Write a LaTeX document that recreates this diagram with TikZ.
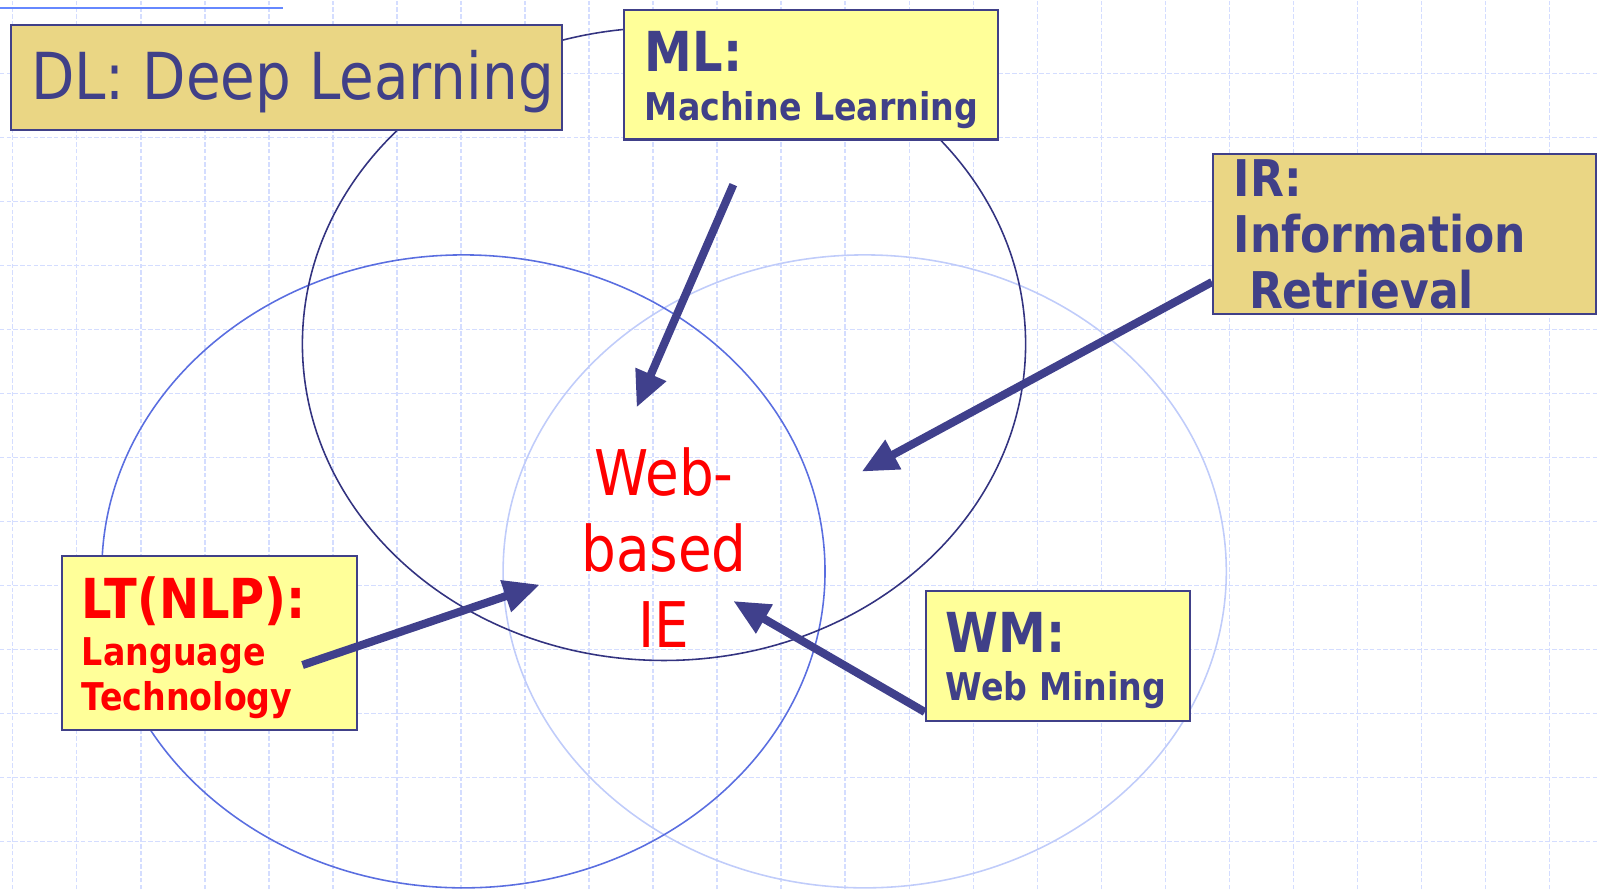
\documentclass[tikz,border=0pt]{standalone}
\usepackage{fontspec}
\setmainfont{DejaVu Sans}[FakeStretch=0.87]
\usepackage{xcolor}
\usepackage{tikz}
\usetikzlibrary{arrows.meta}

\begin{document}
\begin{tikzpicture}[
  gridline/.style={gridblue,line width=0.45pt,dash pattern=on 2pt off 1pt},
  labelbox/.style={draw=navy,line width=0.9pt,inner sep=0pt,anchor=north west},
  boxtext/.style={anchor=base west,inner sep=0pt,align=left},
  hint/.style={-{Triangle[length=16pt,width=14pt]},arrowblue,line width=3.6pt}
]
\definecolor{navy}{HTML}{404088}
\definecolor{arrowblue}{HTML}{40408C}
\definecolor{mlring}{HTML}{333380}
\definecolor{ltring}{HTML}{5A6EE0}
\definecolor{wmring}{HTML}{C0CCFA}
\definecolor{gridblue}{HTML}{D4DDFF}
\definecolor{titleblue}{HTML}{6688FF}
\definecolor{khaki}{HTML}{EAD684}
\definecolor{paleyellow}{HTML}{FFFF99}
\useasboundingbox (0,0) rectangle (24.953,13.891);

% Dashed background grid
\foreach \x in {0,...,24} {
  \draw[gridline] (0.203+\x,0) -- (0.203+\x,13.891);
}
\foreach \y in {0,...,12} {
  \draw[gridline] (0,0.75+\y) -- (24.953,0.75+\y);
}
\draw[titleblue,line width=0.9pt] (0,13.766) -- (4.42,13.766);

% The three overlapping fields
\draw[wmring,line width=0.7pt] (13.511,4.963) ellipse [x radius=5.65,y radius=4.945];
\draw[ltring,line width=0.7pt] (7.241,4.963) ellipse [x radius=5.65,y radius=4.945];
\draw[mlring,line width=0.7pt] (10.375,8.516) ellipse [x radius=5.65,y radius=4.945];

% Label boxes
\node[labelbox,fill=khaki,minimum width=8.61cm,minimum height=1.641cm] (dl) at (0.156,13.516) {};
\node[labelbox,fill=paleyellow,minimum width=5.844cm,minimum height=2.023cm] (ml) at (9.734,13.75) {};
\node[labelbox,fill=khaki,minimum width=5.99cm,minimum height=2.5cm] (ir) at (18.9375,11.5) {};
\node[labelbox,fill=paleyellow,minimum width=4.602cm,minimum height=2.719cm] (lt) at (0.953,5.219) {};
\node[labelbox,fill=paleyellow,minimum width=4.119cm,minimum height=2.031cm] (wm) at (14.453,4.672) {};

% (multi-line texts sit on their last line)
\node[boxtext,navy,font=\fontsize{28.8}{34}\selectfont] (dltext) at (0.478,12.34) {DL: Deep Learning};
\node[boxtext,navy,font=\bfseries\fontsize{24.5}{29}\selectfont] (mlhead) at (10.07,12.776) {ML:};
\node[boxtext,navy,font=\bfseries\fontsize{17}{20}\selectfont] (mlname) at (10.07,12.012) {Machine Learning};
\node[boxtext,navy,font=\bfseries\fontsize{22.5}{24.9}\selectfont] (irtext) at (19.27,9.07) {IR:\\Information\\~Retrieval};
\node[boxtext,red,font=\bfseries\fontsize{24.5}{29}\selectfont] (lthead) at (1.273,4.23) {LT(NLP):};
\node[boxtext,red,font=\bfseries\fontsize{17}{19.6}\selectfont] (ltname) at (1.273,2.797) {Language\\Technology};
\node[boxtext,navy,font=\bfseries\fontsize{24.5}{29}\selectfont] (wmhead) at (14.77,3.69) {WM:};
\node[boxtext,navy,font=\bfseries\fontsize{17}{20}\selectfont] (wmname) at (14.77,2.94) {Web Mining};

% Overlap in the middle
\node[anchor=base,inner sep=0pt,align=center,red,font=\fontsize{28}{33.8}\selectfont] (webie) at (10.375,3.77) {Web-\\based\\IE};

% Arrows into the overlap
\coordinate (mlfoot) at (11.458,11.006);
\coordinate (mltip) at (9.947,7.525);
\coordinate (irfoot) at (18.9375,9.484);
\coordinate (irtip) at (13.464,6.522);
\coordinate (ltfoot) at (4.727,3.5);
\coordinate (lttip) at (8.434,4.756);
\coordinate (wmfoot) at (14.45,2.766);
\coordinate (wmtip) at (11.458,4.5);
\draw[hint] (mlfoot) -- (mltip);
\draw[hint] (irfoot) -- (irtip);
\draw[hint] (ltfoot) -- (lttip);
\draw[hint] (wmfoot) -- (wmtip);
\end{tikzpicture}
\end{document}
